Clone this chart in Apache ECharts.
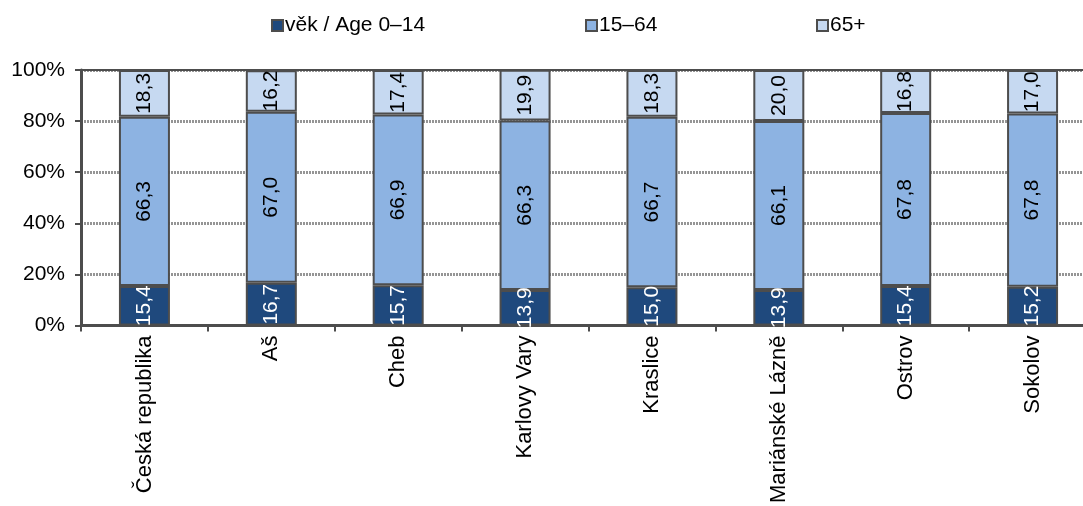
<!DOCTYPE html>
<html><head><meta charset="utf-8">
<script src="https://cdn.jsdelivr.net/npm/echarts@6/dist/echarts.min.js"></script>
<style>html,body{margin:0;padding:0;background:#fff;overflow:hidden;width:1083px;height:506px}#c{width:1096px;height:506px}</style>
</head><body><div id="c"></div>
<script>
const categories = ['Česká republika','Aš','Cheb','Karlovy Vary','Kraslice','Mariánské Lázně','Ostrov','Sokolov'];
const age0_14 = [15.4,16.7,15.7,13.9,15.0,13.9,15.4,15.2];
const age15_64 = [66.3,67.0,66.9,66.3,66.7,66.1,67.8,67.8];
const age65 = [18.3,16.2,17.4,19.9,18.3,20.0,16.8,17.0];
const seriesNames = ['věk / Age 0–14','15–64','65+'];
const yTicks = [0,20,40,60,80,100];

const font = 'Liberation Sans, Arial, sans-serif';
const colors = ['#1f497d','#8db3e2','#c6d9f1'];
const labelColors = ['#ffffff','#000000','#000000'];
const data = [age0_14, age15_64, age65];
const edge = '#4d4d4d';

const chart = echarts.init(document.getElementById('c'));
const legendPos = [266, 580, 811];
chart.setOption({
  animation:false,
  legend: seriesNames.map((n,i)=>({
    data:[n], left:legendPos[i], top:10, itemWidth:11, itemHeight:11, itemGap:3,
    icon:'rect', textStyle:{fontFamily:font,fontSize:21,color:'#000',padding:[0,0,0,-3]},
    selectedMode:false
  })),
  grid:{left:81,right:0,top:70,height:256,containLabel:false},
  xAxis:{
    type:'category', data:categories,
    axisLine:{lineStyle:{color:edge,width:3}},
    axisTick:{show:true,length:6,lineStyle:{color:edge,width:2}},
    axisLabel:{rotate:90,fontFamily:font,fontSize:22,color:'#000',margin:10}
  },
  yAxis:{
    type:'value', min:0, max:100, interval:20,
    axisLine:{show:true,lineStyle:{color:edge,width:3}},
    axisTick:{show:true,length:6,lineStyle:{color:edge,width:2}},
    axisLabel:{formatter:v=>yTicks.includes(v)?v+'%':'',fontFamily:font,fontSize:21,color:'#000',margin:16},
    splitLine:{show:true,lineStyle:{color:'#959595',type:[2,1],width:3}}
  },
  series: seriesNames.map((n,i)=>({
    name:n, type:'bar', stack:'s', barWidth:51,
    data:data[i],
    itemStyle:{color:colors[i],borderColor:edge,borderWidth:2},
    label:{show:true,position:'inside',rotate:90,fontFamily:font,fontSize:21,color:labelColors[i],
      formatter:p=>p.value.toFixed(1).replace('.',',')},
    markLine: i===0 ? {silent:true,symbol:'none',label:{show:false},
      lineStyle:{color:edge,width:2,type:'solid'},data:[{yAxis:100}]} : undefined
  }))
});
</script></body></html>
